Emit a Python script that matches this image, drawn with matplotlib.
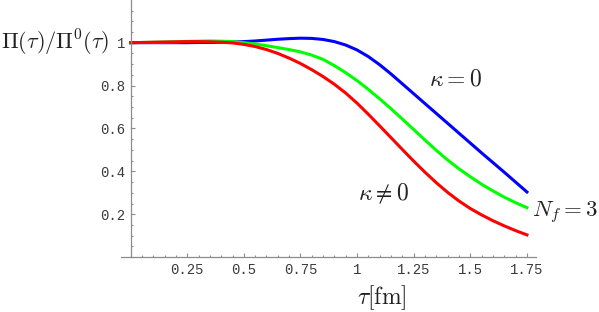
#!/usr/bin/env python3

import matplotlib
matplotlib.use('Agg')
import matplotlib.pyplot as plt
from matplotlib.ticker import MultipleLocator, FixedLocator

plt.rcParams['mathtext.fontset'] = 'cm'

# tau in fm, every 0.05
tau = [0.00, 0.05, 0.10, 0.15, 0.20, 0.25, 0.30, 0.35, 0.40, 0.45,
       0.50, 0.55, 0.60, 0.65, 0.70, 0.75, 0.80, 0.85, 0.90, 0.95,
       1.00, 1.05, 1.10, 1.15, 1.20, 1.25, 1.30, 1.35, 1.40, 1.45,
       1.50, 1.55, 1.60, 1.65, 1.70, 1.75]

# kappa = 0
ratio_blue = [1.000, 1.000, 1.000, 1.000, 1.000, 1.000, 1.001, 1.001, 1.002, 1.003,
              1.005, 1.008, 1.012, 1.016, 1.019, 1.021, 1.020, 1.015, 1.005, 0.989,
              0.966, 0.935, 0.897, 0.854, 0.808, 0.762, 0.716, 0.670, 0.624, 0.578,
              0.532, 0.486, 0.441, 0.396, 0.350, 0.304]

# N_f = 3
ratio_green = [1.000, 1.001, 1.002, 1.003, 1.004, 1.006, 1.007, 1.008, 1.007, 1.005,
               1.000, 0.994, 0.986, 0.977, 0.968, 0.957, 0.942, 0.922, 0.893, 0.860,
               0.823, 0.782, 0.738, 0.692, 0.644, 0.595, 0.546, 0.498, 0.453, 0.412,
               0.375, 0.340, 0.309, 0.280, 0.254, 0.231]

# kappa != 0
ratio_red = [1.000, 1.001, 1.002, 1.003, 1.004, 1.005, 1.005, 1.004, 1.002, 0.999,
             0.992, 0.982, 0.968, 0.950, 0.928, 0.903, 0.874, 0.842, 0.806, 0.765,
             0.718, 0.666, 0.612, 0.557, 0.502, 0.448, 0.396, 0.347, 0.302, 0.262,
             0.227, 0.197, 0.170, 0.146, 0.124, 0.104]

xticks = [0.25, 0.5, 0.75, 1.0, 1.25, 1.5, 1.75]
xticklabels = ['0.25', '0.5', '0.75', '1', '1.25', '1.5', '1.75']
yticks = [0.2, 0.4, 0.6, 0.8, 1.0]
yticklabels = ['0.2', '0.4', '0.6', '0.8', '1']

W, H = 599, 312
fig = plt.figure(figsize=(W / 100, H / 100), dpi=100)
ax = fig.add_axes([121 / W, (H - 257.2) / H, 415 / W, 257.2 / H])

ax.plot(tau, ratio_blue, color=(0, 0, 1), lw=2.2)
ax.plot(tau, ratio_green, color=(0, 1, 0), lw=2.2)
ax.plot(tau, ratio_red, color=(1, 0, 0), lw=2.2)

ax.set_xlim(-0.0424, 1.79)
ax.set_ylim(0, 1.199)

axis_col = '#8c8c8c'
for s in ['top', 'right']:
    ax.spines[s].set_visible(False)
ax.spines['left'].set_position(('data', 0))
ax.spines['bottom'].set_position(('data', 0))
for s in ['left', 'bottom']:
    ax.spines[s].set_color(axis_col)
    ax.spines[s].set_linewidth(0.9)

ax.xaxis.set_major_locator(FixedLocator(xticks))
ax.set_xticklabels(xticklabels)
ax.yaxis.set_major_locator(FixedLocator(yticks))
ax.set_yticklabels(yticklabels)
ax.xaxis.set_minor_locator(MultipleLocator(0.05))
ax.yaxis.set_minor_locator(MultipleLocator(0.05))

ax.tick_params(which='both', direction='in', color=axis_col, width=0.8,
               labelcolor='#3a3a3a', labelsize=10)
ax.tick_params(which='major', length=3.0, pad=4)
ax.tick_params(which='minor', length=1.6)
for lab in ax.get_xticklabels() + ax.get_yticklabels():
    lab.set_family('Liberation Mono')

txt = dict(color='#222222', fontsize=17)
fig.text(109 / W, 1 - 43 / H, r'$\Pi(\tau)/\Pi^0(\tau)$', ha='right', va='center',
         color='#222222', fontsize=16)
fig.text(382 / W, 1 - 298 / H, r'$\tau[\mathrm{fm}]$', ha='center', va='center', **txt)
fig.text(455.5 / W, 1 - 78 / H, r'$\kappa=0$', ha='center', va='center', **txt)
fig.text(383 / W, 1 - 194 / H, r'$\kappa\neq0$', ha='center', va='center', **txt)
fig.text(532 / W, 1 - 213 / H, r'$N_f=3$', ha='left', va='center',
         color='#222222', fontsize=16.5)

fig.savefig('out.png', dpi=100)
